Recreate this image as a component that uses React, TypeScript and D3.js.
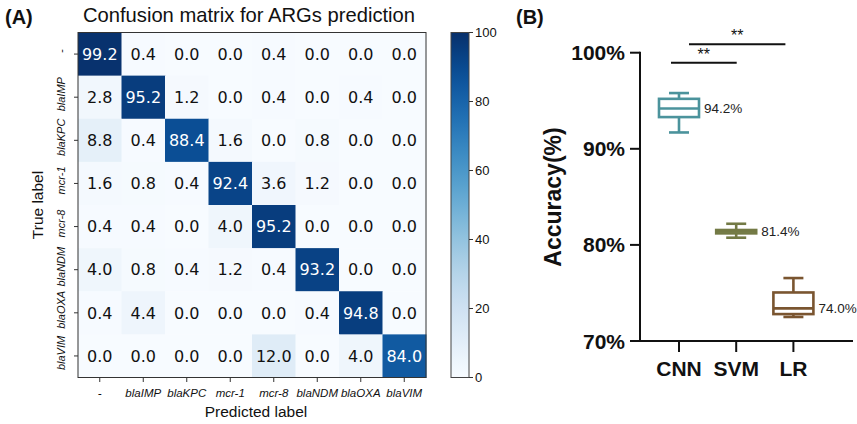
import React from "react";
import * as d3 from "d3";

// ---- Panel A: confusion matrix (percent of each true class) ----
const classLabels = ["-", "blaIMP", "blaKPC", "mcr-1", "mcr-8", "blaNDM", "blaOXA", "blaVIM"];
const confusionRows = [
  [99.2, 0.4, 0.0, 0.0, 0.4, 0.0, 0.0, 0.0],
  [2.8, 95.2, 1.2, 0.0, 0.4, 0.0, 0.4, 0.0],
  [8.8, 0.4, 88.4, 1.6, 0.0, 0.8, 0.0, 0.0],
  [1.6, 0.8, 0.4, 92.4, 3.6, 1.2, 0.0, 0.0],
  [0.4, 0.4, 0.0, 4.0, 95.2, 0.0, 0.0, 0.0],
  [4.0, 0.8, 0.4, 1.2, 0.4, 93.2, 0.0, 0.0],
  [0.4, 4.4, 0.0, 0.0, 0.0, 0.4, 94.8, 0.0],
  [0.0, 0.0, 0.0, 0.0, 12.0, 0.0, 4.0, 84.0],
];
const colorbarTicks = [0, 20, 40, 60, 80, 100];

// ---- Panel B: accuracy box plots ----
const models = ["CNN", "SVM", "LR"];
const whiskerLow = [91.7, 80.75, 72.5];
const quartile1 = [93.3, 81.2, 72.8];
const medians = [94.2, 81.4, 73.4];
const quartile3 = [95.2, 81.55, 75.05];
const whiskerHigh = [95.8, 82.2, 76.55];
const meanAccuracy = [94.2, 81.4, 74.0];
const accuracyTicks = [70, 80, 90, 100];
const modelColors = ["#4b939c", "#737a45", "#7a5530"];

const SANS = "'Liberation Sans', Arial, Helvetica, sans-serif";
const DEJAVU = "'DejaVu Sans', sans-serif";

export default function App() {
  const W = 857;
  const H = 424;

  // heatmap geometry
  const x = d3.scaleBand<string>().domain(classLabels).range([78, 426]);
  const y = d3.scaleBand<string>().domain(classLabels).range([32.5, 377.5]);
  const color = d3.scaleSequential(d3.interpolateBlues).domain([0, 100]);
  const cb = d3.scaleLinear().domain([0, 100]).range([377.5, 32.5]);
  const cbX0 = 451;
  const cbX1 = 469;
  const gradStops = d3.range(0, 1.0001, 0.05);

  // box plot geometry
  const by = d3.scaleLinear().domain([70, 100]).range([341, 52.7]);
  const bx = d3.scalePoint<string>().domain(models).range([679, 793.4]);
  const boxHalf = 20;
  const capHalf = 10;

  return (
    <svg
      width={W}
      height={H}
      style={{ position: "absolute", left: 0, top: 0, background: "#fff" }}
    >
      <defs>
        <linearGradient id="blues" x1="0" y1="1" x2="0" y2="0">
          {gradStops.map((t) => (
            <stop key={t} offset={t} stopColor={d3.interpolateBlues(t)} />
          ))}
        </linearGradient>
      </defs>

      {/* Panel A */}
      <text x={5} y={24} fontFamily={SANS} fontWeight="bold" fontSize={20} fill="#111">
        (A)
      </text>
      <text x={249} y={21.5} fontFamily={SANS} fontSize={20.2} textAnchor="middle" fill="#111">
        Confusion matrix for ARGs prediction
      </text>

      {confusionRows.map((row, i) =>
        row.map((v, j) => (
          <g key={`${i}-${j}`}>
            <rect
              x={x(classLabels[j])}
              y={y(classLabels[i])}
              width={x.bandwidth() + 0.5}
              height={y.bandwidth() + 0.5}
              fill={color(v)}
            />
            <text
              x={(x(classLabels[j]) as number) + x.bandwidth() / 2}
              y={(y(classLabels[i]) as number) + y.bandwidth() / 2}
              dy="0.36em"
              textAnchor="middle"
              fontFamily={DEJAVU}
              fontSize={16}
              fill={v > 50 ? "#fff" : "#111"}
            >
              {v.toFixed(1)}
            </text>
          </g>
        ))
      )}
      <rect x={78} y={32.5} width={348} height={345} fill="none" stroke="#333" strokeWidth={1} />

      {/* y ticks */}
      {classLabels.map((lab) => {
        const cy = (y(lab) as number) + y.bandwidth() / 2;
        return (
          <g key={`yt-${lab}`}>
            <line x1={74} x2={78} y1={cy} y2={cy} stroke="#333" />
            <text
              transform={`translate(61,${cy - 3}) rotate(-90)`}
              textAnchor="middle"
              dy="0.35em"
              fontFamily={SANS}
              fontStyle="italic"
              fontSize={11}
              fill="#111"
            >
              {lab}
            </text>
          </g>
        );
      })}
      {/* x ticks */}
      {classLabels.map((lab) => {
        const cx = (x(lab) as number) + x.bandwidth() / 2;
        return (
          <g key={`xt-${lab}`}>
            <line x1={cx} x2={cx} y1={377.5} y2={382} stroke="#333" />
            <text
              x={cx}
              y={393}
              dy="0.35em"
              textAnchor="middle"
              fontFamily={SANS}
              fontStyle="italic"
              fontSize={11.5}
              fill="#111"
            >
              {lab}
            </text>
          </g>
        );
      })}
      <text x={256} y={412} dy="0.35em" textAnchor="middle" fontFamily={SANS} fontSize={15.5} fill="#111">
        Predicted label
      </text>
      <text
        transform={`translate(38,205) rotate(-90)`}
        textAnchor="middle"
        dy="0.35em"
        fontFamily={SANS}
        fontSize={15.5}
        fill="#111"
      >
        True label
      </text>

      {/* colorbar */}
      <rect x={cbX0} y={cb(100)} width={cbX1 - cbX0} height={cb(0) - cb(100)} fill="url(#blues)" stroke="#444" strokeWidth={1} />
      {colorbarTicks.map((t) => (
        <g key={`cb-${t}`}>
          <line x1={cbX1} x2={cbX1 + 4} y1={cb(t)} y2={cb(t)} stroke="#333" />
          <text x={cbX1 + 6} y={cb(t)} dy="0.35em" fontFamily={SANS} fontSize={13} fill="#111">
            {t}
          </text>
        </g>
      ))}

      {/* Panel B */}
      <text x={516} y={24} fontFamily={SANS} fontWeight="bold" fontSize={20} fill="#111">
        (B)
      </text>
      <text
        transform={`translate(553,197) rotate(-90)`}
        textAnchor="middle"
        dy="0.35em"
        fontFamily={SANS}
        fontWeight="bold"
        fontSize={23}
        fill="#111"
      >
        Accuracy(%)
      </text>

      {/* axes */}
      <line x1={640} x2={640} y1={by(100) - 1} y2={by(70) + 1} stroke="#111" strokeWidth={2} />
      <line x1={639} x2={853} y1={by(70)} y2={by(70)} stroke="#111" strokeWidth={2} />
      {accuracyTicks.map((t) => (
        <g key={`at-${t}`}>
          <line x1={630} x2={640} y1={by(t)} y2={by(t)} stroke="#111" strokeWidth={2} />
          <text
            x={625}
            y={by(t)}
            dy="0.36em"
            textAnchor="end"
            fontFamily={SANS}
            fontWeight="bold"
            fontSize={21}
            fill="#111"
          >
            {t}%
          </text>
        </g>
      ))}
      {models.map((m) => (
        <g key={`mt-${m}`}>
          <line x1={bx(m)} x2={bx(m)} y1={by(70)} y2={by(70) + 11} stroke="#111" strokeWidth={2} />
          <text
            x={bx(m)}
            y={368}
            dy="0.36em"
            textAnchor="middle"
            fontFamily={SANS}
            fontWeight="bold"
            fontSize={21}
            fill="#111"
          >
            {m}
          </text>
        </g>
      ))}

      {/* boxes */}
      {models.map((m, i) => {
        const cx = bx(m) as number;
        const c = modelColors[i];
        const sw = 2.6;
        return (
          <g key={`box-${m}`} stroke={c} strokeWidth={sw} fill="none">
            <line x1={cx} x2={cx} y1={by(whiskerHigh[i])} y2={by(quartile3[i])} />
            <line x1={cx} x2={cx} y1={by(quartile1[i])} y2={by(whiskerLow[i])} />
            <line x1={cx - capHalf} x2={cx + capHalf} y1={by(whiskerHigh[i])} y2={by(whiskerHigh[i])} />
            <line x1={cx - capHalf} x2={cx + capHalf} y1={by(whiskerLow[i])} y2={by(whiskerLow[i])} />
            <rect
              x={cx - boxHalf}
              y={by(quartile3[i])}
              width={boxHalf * 2}
              height={by(quartile1[i]) - by(quartile3[i])}
            />
            <line x1={cx - boxHalf} x2={cx + boxHalf} y1={by(medians[i])} y2={by(medians[i])} />
            <text
              x={cx + boxHalf + 5}
              y={by(medians[i])}
              dy="0.36em"
              stroke="none"
              fill="#222"
              fontFamily={SANS}
              fontSize={13.5}
            >
              {meanAccuracy[i].toFixed(1)}%
            </text>
          </g>
        );
      })}

      {/* significance brackets */}
      {[
        { a: 0, b: 1, y: 62.7, x0: -8, x1: 0.5 },
        { a: 0, b: 2, y: 44.3, x0: 10, x1: -8 },
      ].map((s, k) => {
        const xa = (bx(models[s.a]) as number) + s.x0;
        const xb = (bx(models[s.b]) as number) + s.x1;
        return (
          <g key={`sig-${k}`}>
            <line x1={xa} x2={xb} y1={s.y} y2={s.y} stroke="#111" strokeWidth={2} />
            <text
              x={(xa + xb) / 2}
              y={s.y - 3}
              textAnchor="middle"
              fontFamily={SANS}
              fontSize={16}
              fill="#111"
            >
              **
            </text>
          </g>
        );
      })}
    </svg>
  );
}
